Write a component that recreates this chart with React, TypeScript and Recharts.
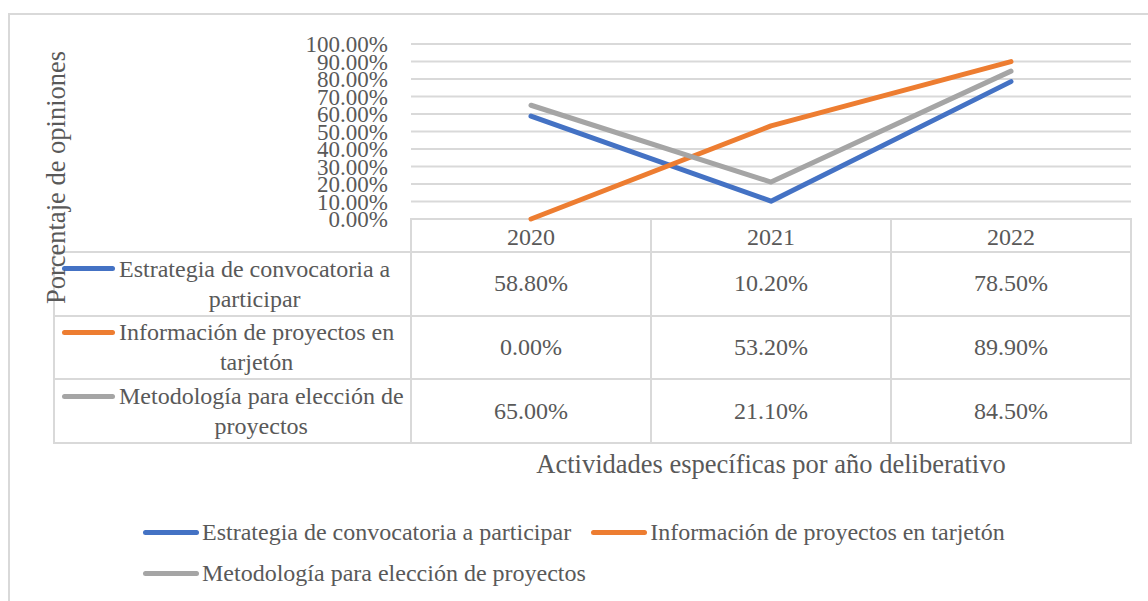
import React from 'react';
import { LineChart, Line, XAxis, YAxis, CartesianGrid, Legend } from 'recharts';

// ---------- data ----------
const categories = ['2020', '2021', '2022'];
const seriesNames = [
  'Estrategia de convocatoria a participar',
  'Información de proyectos en tarjetón',
  'Metodología para elección de proyectos',
];
const estrategia = [0.588, 0.102, 0.785];
const informacion = [0.0, 0.532, 0.899];
const metodologia = [0.65, 0.211, 0.845];
const seriesColors = ['#4472C4', '#ED7D31', '#A5A5A5'];
const yTicks = [0, 0.1, 0.2, 0.3, 0.4, 0.5, 0.6, 0.7, 0.8, 0.9, 1.0];
const yTitle = 'Porcentaje de opiniones';
const xTitle = 'Actividades específicas por año deliberativo';

const seriesValues = [estrategia, informacion, metodologia];
const seriesKeys = ['s0', 's1', 's2'];
const data = categories.map((c, i) => ({
  year: c,
  s0: estrategia[i],
  s1: informacion[i],
  s2: metodologia[i],
}));

const fmt = (v: number) => (v * 100).toFixed(2) + '%';

// ---------- layout ----------
const W = 1148;
const H = 601;
const plotLeft = 411;
const plotRight = 1131;
const plotTop = 44;
const plotBottom = 219;
const headerBottom = 252;
const tableLeft = 54;
const tableBottom = 443;
const yAxisWidth = 100;
const xAxisHeight = 33;
const TEXT = '#595959';
const LINE = '#d9d9d9';
const FONT = "'Liberation Serif', 'Times New Roman', serif";

const colW = (plotRight - plotLeft) / categories.length;
const rowH = (tableBottom - headerBottom) / seriesNames.length;

const splitLabel = (s: string) => {
  const parts = s.split(' ');
  return [parts.slice(0, -1).join(' '), parts[parts.length - 1]];
};

const renderLegend = (props: any) => {
  const payload = props.payload || [];
  return (
    <div style={{ display: 'flex', flexWrap: 'wrap', width: 900, rowGap: 11, fontFamily: FONT }}>
      {payload.map((p: any, i: number) => (
        <div key={i} style={{ display: 'flex', alignItems: 'center', marginRight: 20, height: 30 }}>
          <span
            style={{
              display: 'inline-block',
              width: 56,
              height: 5,
              borderRadius: 3,
              background: p.color,
              marginRight: 3,
            }}
          />
          <span style={{ fontSize: 24, color: TEXT, whiteSpace: 'nowrap', lineHeight: '30px' }}>{p.value}</span>
        </div>
      ))}
    </div>
  );
};

export default function App() {
  const hLines = [headerBottom, ...seriesNames.map((_, i) => headerBottom + rowH * (i + 1))];
  const vLines = [...categories.map((_, i) => plotLeft + colW * i), plotRight];
  return (
    <div style={{ position: 'relative', width: W, height: H, fontFamily: FONT, overflow: 'hidden', background: '#fff' }}>
      <style>{'html,body{margin:0;padding:0;overflow:hidden;background:#fff;}'}</style>
      {/* outer chart border */}
      <div
        style={{
          position: 'absolute',
          left: 8,
          top: 13,
          width: W,
          height: H,
          borderTop: `2px solid ${LINE}`,
          borderLeft: `2px solid ${LINE}`,
          boxSizing: 'border-box',
        }}
      />
      <div style={{ position: 'absolute', left: 0, top: 0 }}>
        <LineChart
          width={W}
          height={H}
          data={data}
          margin={{
            top: plotTop,
            right: W - plotRight,
            left: plotLeft - yAxisWidth,
            bottom: H - plotBottom - xAxisHeight,
          }}
        >
          <CartesianGrid horizontal vertical={false} stroke={LINE} strokeWidth={2} />
          <XAxis
            dataKey="year"
            scale="band"
            axisLine={false}
            tickLine={false}
            tickSize={0}
            tickMargin={9}
            height={xAxisHeight}
            interval={0}
            tick={{ fill: TEXT, fontSize: 24, fontFamily: FONT }}
          />
          <YAxis
            domain={[0, 1]}
            ticks={yTicks}
            interval={0}
            width={yAxisWidth}
            axisLine={false}
            tickLine={false}
            tickSize={0}
            tickMargin={23}
            tickFormatter={fmt}
            tick={{ fill: TEXT, fontSize: 23, fontFamily: FONT }}
          />
          {seriesKeys.map((k, i) => (
            <Line
              key={k}
              type="linear"
              dataKey={k}
              name={seriesNames[i]}
              stroke={seriesColors[i]}
              strokeWidth={5}
              strokeLinecap="round"
              strokeLinejoin="round"
              dot={false}
              activeDot={false}
              isAnimationActive={false}
            />
          ))}
          <Legend
            layout="horizontal"
            verticalAlign="middle"
            align="center"
            content={renderLegend}
            wrapperStyle={{ position: 'absolute', left: 143, top: 517, width: 900 }}
          />
        </LineChart>
      </div>

      {/* data table lines */}
      {hLines.map((y, i) => (
        <div
          key={'h' + i}
          style={{ position: 'absolute', left: tableLeft - 1, top: y - 1, width: plotRight - tableLeft + 2, height: 2, background: LINE }}
        />
      ))}
      {vLines.map((x, i) => (
        <div
          key={'v' + i}
          style={{ position: 'absolute', left: x - 1, top: plotBottom - 1, width: 2, height: tableBottom - plotBottom + 2, background: LINE }}
        />
      ))}
      <div
        style={{ position: 'absolute', left: tableLeft - 1, top: headerBottom - 1, width: 2, height: tableBottom - headerBottom + 2, background: LINE }}
      />

      {/* data table row labels */}
      {seriesNames.map((name, i) => {
        const [l1, l2] = splitLabel(name);
        return (
          <div
            key={'r' + i}
            style={{
              position: 'absolute',
              left: tableLeft + 8,
              top: headerBottom + rowH * i,
              height: rowH,
              display: 'flex',
              alignItems: 'center',
            }}
          >
            <div style={{ display: 'flex', alignItems: 'flex-start' }}>
              <span
                style={{
                  display: 'inline-block',
                  width: 53,
                  height: 5,
                  borderRadius: 3,
                  background: seriesColors[i],
                  marginTop: 12.5,
                  marginRight: 4,
                }}
              />
              <div style={{ textAlign: 'center', fontSize: 24, lineHeight: '30px', color: TEXT, whiteSpace: 'nowrap' }}>
                {l1}
                <br />
                {l2}
              </div>
            </div>
          </div>
        );
      })}

      {/* data table values */}
      {seriesValues.map((vals, i) =>
        vals.map((v, j) => (
          <div
            key={'c' + i + '-' + j}
            style={{
              position: 'absolute',
              left: plotLeft + colW * j,
              top: headerBottom + rowH * i,
              width: colW,
              height: rowH,
              display: 'flex',
              alignItems: 'center',
              justifyContent: 'center',
              fontSize: 24,
              color: TEXT,
            }}
          >
            {fmt(v)}
          </div>
        ))
      )}

      {/* axis titles */}
      <svg width={W} height={H} style={{ position: 'absolute', left: 0, top: 0, pointerEvents: 'none' }}>
        <text
          x={65}
          y={177.5}
          transform="rotate(-90 65 177.5)"
          textAnchor="middle"
          fontSize={26.5}
          fill={TEXT}
          fontFamily={FONT}
        >
          {yTitle}
        </text>
        <text x={(plotLeft + plotRight) / 2} y={473} textAnchor="middle" fontSize={26.5} fill={TEXT} fontFamily={FONT}>
          {xTitle}
        </text>
      </svg>
    </div>
  );
}
